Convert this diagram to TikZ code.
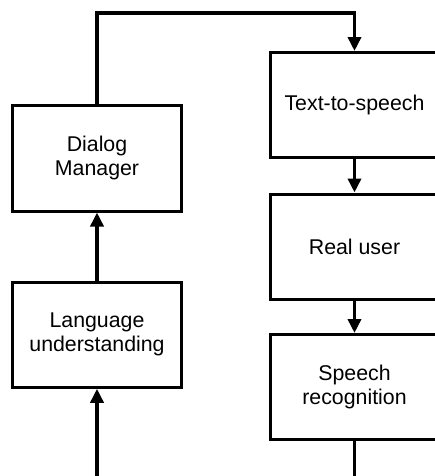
\documentclass[tikz,border=0pt]{standalone}
\usepackage{fontspec}
\setmainfont{Liberation Sans}
\usetikzlibrary{arrows.meta}
\begin{document}
\begin{tikzpicture}[x=0.75pt,y=-0.75pt,
  box/.style={draw=black,line width=2.25pt,minimum width=126.75pt,minimum height=78.75pt,
    inner sep=0pt,align=center,font=\fontsize{16}{18}\selectfont},
  conn/.style={line width=2.6pt,line join=miter},
  arr/.style={conn,-{Triangle[length=10.5pt,width=9.75pt]}}]
\useasboundingbox (0,0) rectangle (435,476);
\node[box,minimum height=79.5pt] (DM) at (97,158) {Dialog\\Manager};
\node[box] (LU) at (97,334.75) {Language\\understanding};
\node[box] (TTS) at (354.5,105) {Text-to-speech};
\node[box] (RU) at (354.5,246.5) {Real user};
\node[box] (SR) at (354.5,387) {Speech\\recognition};
\coordinate (bl) at (97,476);
\coordinate (br) at (354.5,476);
\coordinate (top) at (354.5,13);
\draw[arr] (bl) -- (LU.south);
\draw[arr] (LU.north) -- (DM.south);
\draw[arr] (DM.north) |- (top) -- (TTS.north);
\draw[arr] (TTS.south) -- (RU.north);
\draw[arr] (RU.south) -- (SR.north);
\draw[conn] (SR.south) -- (br);
\end{tikzpicture}
\end{document}
